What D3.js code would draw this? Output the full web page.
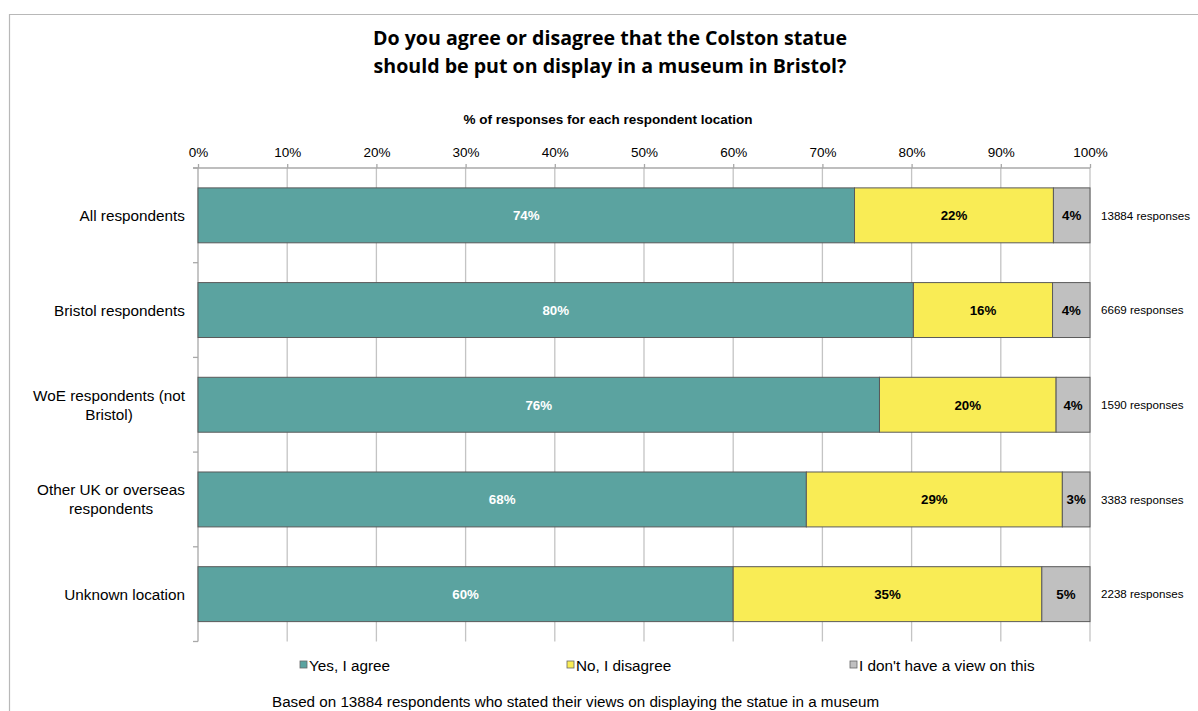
<!DOCTYPE html>
<html>
<head>
<meta charset="utf-8">
<script src="https://cdn.jsdelivr.net/npm/d3@7"></script>
<style>
  html, body { margin: 0; padding: 0; background: #fff; }
  svg { display: block; }
</style>
</head>
<body>
<svg id="chart" width="1198" height="711"></svg>
<script>
// ---- data ----
const categories = [
  ["All respondents"],
  ["Bristol respondents"],
  ["WoE respondents (not", "Bristol)"],
  ["Other UK or overseas", "respondents"],
  ["Unknown location"]
];
const seriesNames = ["Yes, I agree", "No, I disagree", "I don't have a view on this"];
const agree    = [73.6, 80.2, 76.4, 68.2, 60.0];
const disagree = [22.3, 15.6, 19.8, 28.7, 34.6];
const noView   = [4.1, 4.2, 3.8, 3.1, 5.4];
const responses = [13884, 6669, 1590, 3383, 2238];
const xTicks = [0, 10, 20, 30, 40, 50, 60, 70, 80, 90, 100];
const colors = ["#5ba3a0", "#f9ec55", "#c0c0c0"];
const labelColors = ["#ffffff", "#000000", "#000000"];

const svg = d3.select("#chart");
const W = 1198, H = 711;
const pLeft = 198, pRight = 1090, pTop = 168, pBottom = 641.5;
const FONT = "'Liberation Sans', Arial, sans-serif";

// frame
svg.append("path")
  .attr("d", `M9.5,${H}V14.5H${W}`)
  .attr("fill", "none").attr("stroke", "#b8b8b8").attr("stroke-width", 1.2);

// title
const title = svg.append("text")
  .attr("x", 610).attr("text-anchor", "middle")
  .attr("font-family", "'Open Sans', sans-serif").attr("font-weight", "bold")
  .attr("font-size", 19.6).attr("fill", "#000");
title.append("tspan").attr("x", 610).attr("y", 45).text("Do you agree or disagree that the Colston statue");
title.append("tspan").attr("x", 610).attr("y", 73).text("should be put on display in a museum in Bristol?");

svg.append("text")
  .attr("x", 608).attr("y", 124).attr("text-anchor", "middle")
  .attr("font-family", FONT).attr("font-weight", "bold").attr("font-size", 13.5)
  .text("% of responses for each respondent location");

const x = d3.scaleLinear().domain([0, 100]).range([pLeft, pRight]);
const y = d3.scaleBand().domain(d3.range(categories.length)).range([pTop, pBottom]).paddingInner(0.42).paddingOuter(0.21);
const yEdges = d3.scaleLinear().domain([0, categories.length]).range([pTop, pBottom]);

// gridlines
svg.append("g").selectAll("line").data(xTicks.slice(1)).join("line")
  .attr("x1", d => x(d)).attr("x2", d => x(d))
  .attr("y1", pTop).attr("y2", pBottom)
  .attr("stroke", "#c4c4c4").attr("stroke-width", 1.3);

// top axis
const xAxis = d3.axisTop(x).tickValues(xTicks).tickSize(4).tickFormat(d => d + "%");
const gx = svg.append("g").attr("transform", `translate(0,${pTop})`).call(xAxis);
gx.select(".domain").attr("d", `M${pLeft - 5},0H${pRight}`).attr("stroke", "#a8a8a8").attr("stroke-width", 1.3);
gx.selectAll(".tick line").attr("stroke", "#a8a8a8").attr("stroke-width", 1.3);
gx.selectAll(".tick text").attr("font-family", FONT).attr("font-size", 13.5).attr("fill", "#000").attr("dy", "-0.3em");

// left axis line and category ticks
svg.append("line").attr("x1", pLeft).attr("x2", pLeft).attr("y1", pTop).attr("y2", pBottom)
  .attr("stroke", "#a8a8a8").attr("stroke-width", 1.3);
svg.append("g").selectAll("line").data(d3.range(categories.length + 1)).join("line")
  .attr("x1", pLeft - 5).attr("x2", pLeft)
  .attr("y1", d => yEdges(d)).attr("y2", d => yEdges(d))
  .attr("stroke", "#a8a8a8").attr("stroke-width", 1.3);

// stacked bars
const series = [agree, disagree, noView];
categories.forEach((cat, i) => {
  let acc = 0;
  series.forEach((s, k) => {
    const v = s[i];
    const x0 = x(acc), x1 = x(acc + v);
    svg.append("rect")
      .attr("x", x0).attr("y", y(i)).attr("width", x1 - x0).attr("height", y.bandwidth())
      .attr("fill", colors[k]).attr("stroke", "#5a5a5a").attr("stroke-width", 1);
    svg.append("text")
      .attr("x", (x0 + x1) / 2).attr("y", y(i) + y.bandwidth() / 2)
      .attr("dy", "0.36em").attr("text-anchor", "middle")
      .attr("font-family", FONT).attr("font-weight", "bold").attr("font-size", 13.3)
      .attr("fill", labelColors[k])
      .text(Math.round(v) + "%");
    acc += v;
  });
  // responses text
  svg.append("text")
    .attr("x", pRight + 11).attr("y", y(i) + y.bandwidth() / 2).attr("dy", "0.36em")
    .attr("font-family", FONT).attr("font-size", 11.6).attr("fill", "#000")
    .text(responses[i] + " responses");
  // category label (centered lines, right aligned block)
  const cy = y(i) + y.bandwidth() / 2;
  const g = svg.append("text").attr("font-family", FONT).attr("font-size", 15.3).attr("fill", "#000");
  const lh = 19;
  const n = cat.length;
  cat.forEach((line, j) => {
    g.append("tspan").attr("y", cy + (j - (n - 1) / 2) * lh).attr("dy", "0.36em").text(line);
  });
  const tspans = g.selectAll("tspan").nodes();
  const widths = tspans.map(t => t.getComputedTextLength());
  const maxW = d3.max(widths);
  const center = 185 - maxW / 2;
  tspans.forEach(t => { d3.select(t).attr("x", center).attr("text-anchor", "middle"); });
});

// legend
const legendX = [300, 567, 850];
seriesNames.forEach((name, k) => {
  svg.append("rect").attr("x", legendX[k]).attr("y", 661).attr("width", 7).attr("height", 7)
    .attr("fill", colors[k]).attr("stroke", "#666").attr("stroke-width", 0.8);
  svg.append("text").attr("x", legendX[k] + 9).attr("y", 665).attr("dy", "0.36em")
    .attr("font-family", FONT).attr("font-size", 15.3).attr("fill", "#000").text(name);
});

// footer
svg.append("text").attr("x", 272).attr("y", 702).attr("dy", "0.36em")
  .attr("font-family", FONT).attr("font-size", 15.2).attr("fill", "#000")
  .text("Based on 13884 respondents who stated their views on displaying the statue in a museum");
</script>
</body>
</html>
